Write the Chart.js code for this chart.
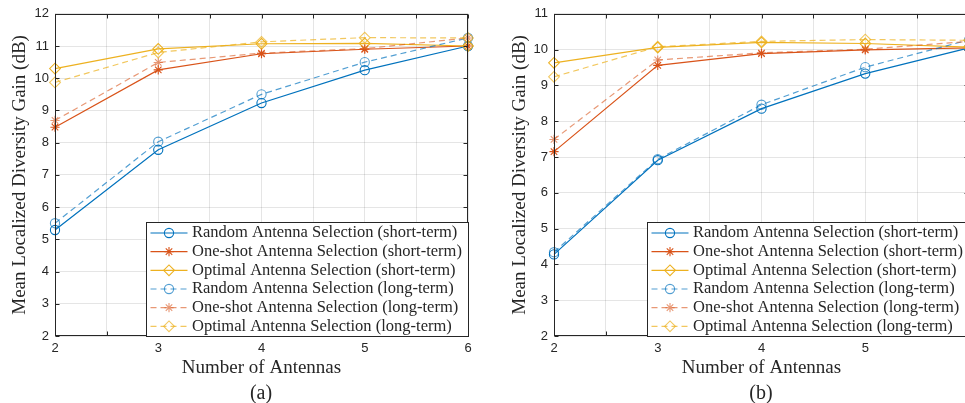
<!DOCTYPE html>
<html><head><meta charset="utf-8">
<script src="https://cdn.jsdelivr.net/npm/chart.js@4.4.1/dist/chart.umd.min.js"></script>
<style>
html,body{margin:0;padding:0;background:#fff;overflow:hidden;width:965px;height:403px;}
#wrap{position:relative;width:965px;height:403px;overflow:hidden;background:#fff;}
.box{position:absolute;top:0;height:403px;}
.cap{position:absolute;font-family:"Liberation Serif","Times New Roman",serif;font-size:20px;color:#262626;transform:translate(-50%,-50%);top:392px;white-space:nowrap;}
</style></head><body>
<div id="wrap">
<div class="box" style="left:0;width:480px"><canvas id="ca"></canvas></div>
<div class="box" style="left:485px;width:496px"><canvas id="cb"></canvas></div>
<div class="cap" style="left:261px">(a)</div>
<div class="cap" style="left:761px">(b)</div>
</div>
<script>
// ---- data ----
const antennas = [2, 3, 4, 5, 6];
const xTickLabels = [2, 3, 4, 5, 6];
const seriesNames = [
  'Random Antenna Selection (short-term)',
  'One-shot Antenna Selection (short-term)',
  'Optimal Antenna Selection (short-term)',
  'Random Antenna Selection (long-term)',
  'One-shot Antenna Selection (long-term)',
  'Optimal Antenna Selection (long-term)'
];
const xTitle = 'Number of Antennas';
const yTitle = 'Mean Localized Diversity Gain (dB)';

// panel (a)
const a_randomShort  = [5.29, 7.78, 9.23, 10.25, 11.00];
const a_oneshotShort = [8.48, 10.26, 10.76, 10.90, 11.00];
const a_optimalShort = [10.30, 10.91, 11.07, 11.08, 11.00];
const a_randomLong   = [5.50, 8.03, 9.50, 10.50, 11.25];
const a_oneshotLong  = [8.69, 10.49, 10.78, 10.92, 11.25];
const a_optimalLong  = [9.87, 10.80, 11.13, 11.26, 11.25];
const a_yTicks = [2, 3, 4, 5, 6, 7, 8, 9, 10, 11, 12];

// panel (b)
const b_randomShort  = [4.28, 6.91, 8.35, 9.33, 10.05];
const b_oneshotShort = [7.15, 9.56, 9.89, 9.99, 10.05];
const b_optimalShort = [9.63, 10.06, 10.20, 10.17, 10.07];
const b_randomLong   = [4.34, 6.94, 8.46, 9.51, 10.27];
const b_oneshotLong  = [7.49, 9.71, 9.91, 10.01, 10.23];
const b_optimalLong  = [9.24, 10.08, 10.23, 10.28, 10.26];
const b_yTicks = [2, 3, 4, 5, 6, 7, 8, 9, 10, 11];

// ---- styles ----
const INK = '#262626';
const colors = ['#0072BD', '#D95319', '#EDB120', 'rgba(0,114,189,0.68)', 'rgba(217,83,25,0.6)', 'rgba(237,177,32,0.72)'];
const pstyles = ['circle', 'star', 'rectRot', 'circle', 'star', 'rectRot'];
const pradius = [4.6, 4.6, 5.4, 4.6, 4.6, 5.4];
const dashes = [[], [], [], [6, 4], [6, 4], [6, 4]];

function buildDatasets(list) {
  return list.map((vals, i) => ({
    label: seriesNames[i],
    data: antennas.map((x, k) => ({ x: x, y: vals[k] })),
    borderColor: colors[i],
    backgroundColor: 'rgba(0,0,0,0)',
    borderWidth: 1.2,
    borderDash: dashes[i],
    pointStyle: pstyles[i],
    pointRadius: pradius[i],
    pointBorderWidth: 1.1,
    pointBorderColor: colors[i],
    pointBackgroundColor: 'rgba(0,0,0,0)',
    pointHoverRadius: pradius[i],
    tension: 0,
    fill: false,
    clip: false,
    order: 6 - i
  }));
}

const frameLegendPlugin = {
  id: 'frameLegend',
  afterDatasetsDraw(chart) {
    const ctx = chart.ctx;
    const a = chart.chartArea;
    const xs = chart.scales.x, ys = chart.scales.y;
    ctx.save();
    // frame
    ctx.strokeStyle = INK;
    ctx.lineWidth = 1;
    const L = Math.round(a.left) + 0.5, R = Math.round(a.right) - 0.5;
    const T = Math.round(a.top) + 0.5, B = Math.round(a.bottom) - 0.5;
    ctx.strokeRect(L, T, R - L, B - T);
    // inward ticks
    ctx.beginPath();
    xs.ticks.forEach(t => {
      const px = Math.round(xs.getPixelForValue(t.value)) + 0.5;
      ctx.moveTo(px, B); ctx.lineTo(px, B - 4);
      ctx.moveTo(px, T); ctx.lineTo(px, T + 4);
    });
    ys.ticks.forEach(t => {
      const py = Math.round(ys.getPixelForValue(t.value)) + 0.5;
      ctx.moveTo(L, py); ctx.lineTo(L + 4, py);
      ctx.moveTo(R, py); ctx.lineTo(R - 4, py);
    });
    ctx.stroke();
    // legend
    const w = 322, h = 114;
    const x0 = Math.round(a.right - w) + 0.5, y0 = Math.round(a.bottom - h) + 0.5;
    ctx.fillStyle = '#fff';
    ctx.fillRect(x0, y0, w, h);
    ctx.strokeStyle = INK;
    ctx.lineWidth = 1;
    ctx.strokeRect(x0, y0, w, h);
    ctx.font = '16.5px "Liberation Serif", "Times New Roman", serif';
    ctx.textBaseline = 'middle';
    ctx.textAlign = 'left';
    chart.data.datasets.forEach((ds, i) => {
      const cy = y0 + 10.5 + i * 18.67;
      ctx.save();
      ctx.strokeStyle = ds.borderColor;
      ctx.lineWidth = ds.borderWidth;
      ctx.setLineDash(ds.borderDash || []);
      ctx.beginPath();
      ctx.moveTo(x0 + 4, cy); ctx.lineTo(x0 + 41, cy);
      ctx.stroke();
      ctx.setLineDash([]);
      ctx.fillStyle = 'rgba(0,0,0,0)';
      ctx.strokeStyle = ds.pointBorderColor;
      ctx.lineWidth = ds.pointBorderWidth;
      if (Chart.helpers && Chart.helpers.drawPoint) {
        Chart.helpers.drawPoint(ctx, { pointStyle: ds.pointStyle, radius: ds.pointRadius, borderWidth: ds.pointBorderWidth, rotation: 0 }, x0 + 22.5, cy);
      } else {
        ctx.beginPath(); ctx.arc(x0 + 22.5, cy, ds.pointRadius, 0, Math.PI * 2); ctx.stroke();
      }
      ctx.restore();
      ctx.fillStyle = INK;
      ctx.fillText(ds.label, x0 + 45.5, cy);
    });
    ctx.restore();
  }
};

function makeChart(id, lists, yTicks, yWidth, yTitlePad) {
  const yMin = yTicks[0], yMax = yTicks[yTicks.length - 1];
  return new Chart(document.getElementById(id), {
    type: 'line',
    data: { datasets: buildDatasets(lists) },
    options: {
      responsive: true,
      maintainAspectRatio: false,
      animation: false,
      events: [],
      layout: { padding: { left: 0, right: 12, top: 12, bottom: 22 } },
      plugins: { legend: { display: false }, tooltip: { enabled: false } },
      scales: {
        x: {
          type: 'linear',
          min: antennas[0], max: antennas[antennas.length - 1],
          afterFit(s) { s.height = 45; },
          afterBuildTicks(s) {
            const t = [];
            for (let v = xTickLabels[0]; v <= xTickLabels[xTickLabels.length - 1] + 1e-9; v += 0.5) t.push({ value: v });
            s.ticks = t;
          },
          ticks: {
            autoSkip: false, maxRotation: 0, padding: 5,
            color: INK,
            font: { family: '"Liberation Sans", Arial, sans-serif', size: 13 },
            callback: v => xTickLabels.includes(v) ? String(v) : ''
          },
          grid: { color: 'rgba(38,38,38,0.12)', lineWidth: 1, drawTicks: false },
          border: { display: false },
          title: {
            display: true, text: xTitle, color: INK,
            font: { family: '"Liberation Serif", "Times New Roman", serif', size: 19 },
            padding: { top: 0, bottom: 1.6 }
          }
        },
        y: {
          type: 'linear',
          min: yMin, max: yMax,
          afterFit(s) { s.width = yWidth; },
          afterBuildTicks(s) { s.ticks = yTicks.map(v => ({ value: v })); },
          ticks: {
            autoSkip: false, padding: 6, color: INK,
            font: { family: '"Liberation Sans", Arial, sans-serif', size: 13 },
            callback: v => String(v)
          },
          grid: { color: 'rgba(38,38,38,0.12)', lineWidth: 1, drawTicks: false },
          border: { display: false },
          title: {
            display: true, text: yTitle, color: INK,
            font: { family: '"Liberation Serif", "Times New Roman", serif', size: 19 },
            padding: { top: yTitlePad, bottom: 0 }
          }
        }
      }
    },
    plugins: [frameLegendPlugin]
  });
}

makeChart('ca', [a_randomShort, a_oneshotShort, a_optimalShort, a_randomLong, a_oneshotLong, a_optimalLong], a_yTicks, 55, 8.6);
makeChart('cb', [b_randomShort, b_oneshotShort, b_optimalShort, b_randomLong, b_oneshotLong, b_optimalLong], b_yTicks, 69, 23.6);
</script>
</body></html>
